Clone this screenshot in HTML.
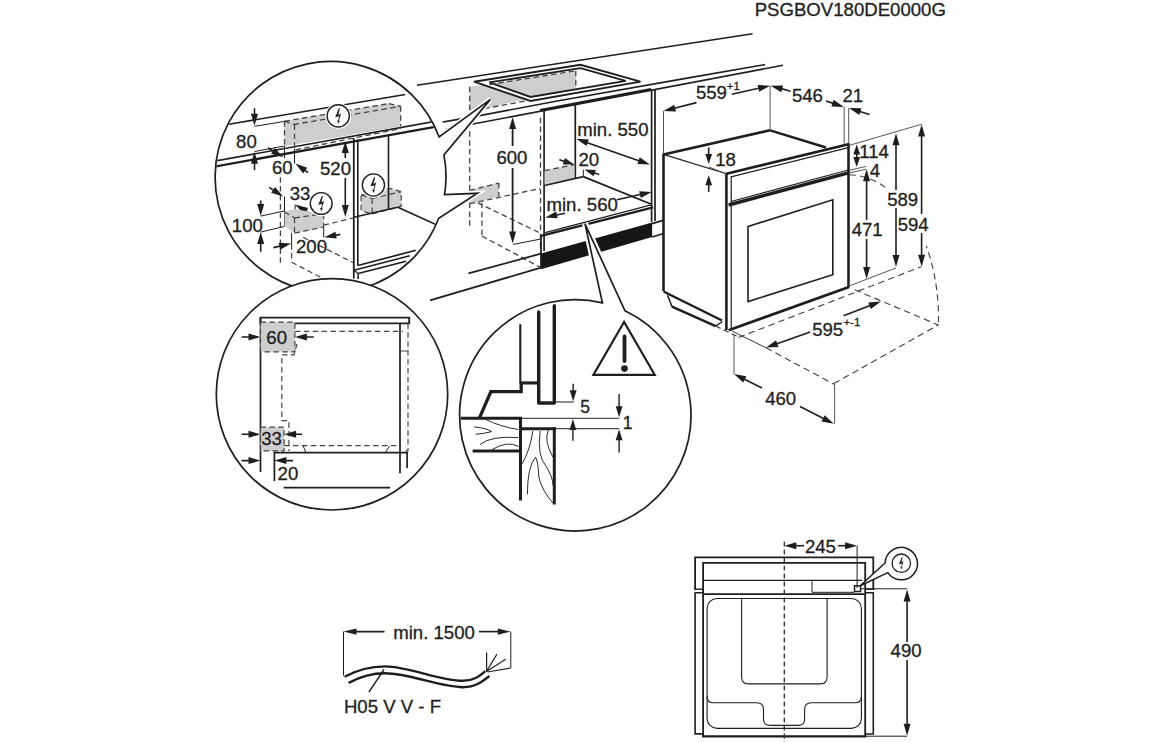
<!DOCTYPE html>
<html><head><meta charset="utf-8"><style>
html,body{margin:0;padding:0;background:#fff;width:1156px;height:742px;overflow:hidden}
svg{display:block}
text{font-family:"Liberation Sans",sans-serif;fill:#1e1e1e;stroke:#1e1e1e;stroke-width:0.3px}
</style></head><body>
<svg width="1156" height="742" viewBox="0 0 1156 742">
<rect width="1156" height="742" fill="#fff"/>
<line x1="417" y1="85.3" x2="752.6" y2="33.7" stroke="#1e1e1e" stroke-width="1.6" stroke-linecap="butt"/>
<polyline points="400,129.5 479.7,115.6 560,100.5 690,77.6 765,64.6" fill="none" stroke="#1e1e1e" stroke-width="1.6" stroke-linejoin="miter"/>
<line x1="440" y1="130.3" x2="783" y2="65.3" stroke="#1e1e1e" stroke-width="1.6" stroke-linecap="butt"/>
<line x1="540.1" y1="110.2" x2="651" y2="89.3" stroke="#1e1e1e" stroke-width="2.6" stroke-linecap="butt"/>
<polygon points="469.7,86.8 575.8,70.8 575.8,88.3 469.7,111.5" fill="#cdcecf" stroke="none" stroke-linejoin="miter"/>
<path d="M474,81.7 L580.5,64.8 L640.5,81.6 L530.5,101 Z M489.3,82.4 L580.5,68.1 L625.7,80.9 L530.5,97 Z" fill="#fff" fill-rule="evenodd"/>
<polygon points="474,81.7 580.5,64.8 640.5,81.6 530.5,101" fill="none" stroke="#1e1e1e" stroke-width="1.9" stroke-linejoin="miter"/>
<polygon points="489.3,82.4 580.5,68.1 625.7,80.9 530.5,97" fill="none" stroke="#1e1e1e" stroke-width="1.9" stroke-linejoin="miter"/>
<line x1="489.5" y1="84.5" x2="575.8" y2="70.8" stroke="#444" stroke-width="1.3" stroke-dasharray="5.5,3.4" stroke-linecap="butt"/>
<line x1="575.8" y1="70.8" x2="575.8" y2="88.3" stroke="#444" stroke-width="1.3" stroke-dasharray="5.5,3.4" stroke-linecap="butt"/>
<line x1="484.2" y1="108.6" x2="530" y2="100.2" stroke="#444" stroke-width="1.3" stroke-dasharray="5.5,3.4" stroke-linecap="butt"/>
<line x1="469.7" y1="86.8" x2="469.7" y2="227" stroke="#444" stroke-width="1.3" stroke-dasharray="5.5,3.4" stroke-linecap="butt"/>
<polygon points="469.7,190.4 498.8,183.1 498.8,196.4 469.7,203.7" fill="#cdcecf" stroke="none" stroke-linejoin="miter"/>
<line x1="469.7" y1="190.4" x2="498.8" y2="183.1" stroke="#444" stroke-width="1.3" stroke-dasharray="5.5,3.4" stroke-linecap="butt"/>
<line x1="498.8" y1="183.1" x2="498.8" y2="196.4" stroke="#444" stroke-width="1.3" stroke-dasharray="5.5,3.4" stroke-linecap="butt"/>
<line x1="469.7" y1="203.7" x2="540" y2="188.5" stroke="#444" stroke-width="1.3" stroke-dasharray="5.5,3.4" stroke-linecap="butt"/>
<line x1="481.9" y1="202.8" x2="481.9" y2="236" stroke="#444" stroke-width="1.3" stroke-dasharray="5.5,3.4" stroke-linecap="butt"/>
<line x1="481.9" y1="236" x2="540" y2="267.2" stroke="#444" stroke-width="1.3" stroke-dasharray="5.5,3.4" stroke-linecap="butt"/>
<line x1="477.7" y1="202.8" x2="540" y2="233" stroke="#444" stroke-width="1.3" stroke-dasharray="5.5,3.4" stroke-linecap="butt"/>
<line x1="540.5" y1="117.7" x2="540.5" y2="251" stroke="#444" stroke-width="1.3" stroke-dasharray="5.5,3.4" stroke-linecap="butt"/>
<line x1="544.1" y1="109.5" x2="544.1" y2="251" stroke="#1e1e1e" stroke-width="1.7" stroke-linecap="butt"/>
<line x1="575.3" y1="104.5" x2="575.3" y2="178.6" stroke="#1e1e1e" stroke-width="1.7" stroke-linecap="butt"/>
<line x1="651.6" y1="89.5" x2="651.6" y2="222" stroke="#1e1e1e" stroke-width="1.7" stroke-linecap="butt"/>
<line x1="655" y1="89" x2="655" y2="221" stroke="#1e1e1e" stroke-width="1.7" stroke-linecap="butt"/>
<polygon points="544.5,170.6 574.3,164.6 574.3,178.6 544.5,184.5" fill="#cdcecf" stroke="none" stroke-linejoin="miter"/>
<line x1="544.5" y1="170.6" x2="574.3" y2="164.6" stroke="#444" stroke-width="1.3" stroke-dasharray="5.5,3.4" stroke-linecap="butt"/>
<line x1="544.5" y1="185.5" x2="583.3" y2="176.6" stroke="#1e1e1e" stroke-width="1.7" stroke-linecap="butt"/>
<line x1="583.3" y1="176.6" x2="652" y2="204.5" stroke="#1e1e1e" stroke-width="1.7" stroke-linecap="butt"/>
<line x1="545.2" y1="232.6" x2="652.1" y2="204.6" stroke="#1e1e1e" stroke-width="1.2" stroke-linecap="butt"/>
<line x1="541" y1="235.8" x2="653.2" y2="207.4" stroke="#1e1e1e" stroke-width="2.4" stroke-linecap="butt"/>
<polygon points="541,253.5 652.1,222.4 652.1,237 541,269.3" fill="#161616" stroke="none" stroke-linejoin="miter"/>
<line x1="541" y1="235" x2="541" y2="268.2" stroke="#1e1e1e" stroke-width="1.8" stroke-linecap="butt"/>
<line x1="468.4" y1="273.4" x2="541" y2="253.6" stroke="#1e1e1e" stroke-width="1.7" stroke-linecap="butt"/>
<line x1="430" y1="300.4" x2="541" y2="267.6" stroke="#1e1e1e" stroke-width="1.7" stroke-linecap="butt"/>
<line x1="652.1" y1="223.6" x2="663" y2="220.4" stroke="#1e1e1e" stroke-width="1.7" stroke-linecap="butt"/>
<line x1="652.1" y1="237" x2="663" y2="233.8" stroke="#1e1e1e" stroke-width="1.7" stroke-linecap="butt"/>
<line x1="512.6" y1="124" x2="512.6" y2="146" stroke="#1e1e1e" stroke-width="1.8" stroke-linecap="butt"/>
<polygon points="512.6,117.1 516.1,129.1 509.1,129.1" fill="#1e1e1e" stroke="none" stroke-linejoin="miter"/>
<line x1="512.6" y1="168" x2="512.6" y2="237" stroke="#1e1e1e" stroke-width="1.8" stroke-linecap="butt"/>
<polygon points="512.6,243.6 509.1,231.6 516.1,231.6" fill="#1e1e1e" stroke="none" stroke-linejoin="miter"/>
<line x1="513" y1="244.4" x2="540" y2="239.2" stroke="#1e1e1e" stroke-width="1.0" stroke-linecap="butt"/>
<text x="496.4" y="164" font-size="18.6" text-anchor="start">600</text>
<line x1="583.09" y1="141.18" x2="643.11" y2="162.22" stroke="#1e1e1e" stroke-width="1.6" stroke-linecap="butt"/>
<polygon points="649.9,164.6 637.42,163.93 639.73,157.33" fill="#1e1e1e" stroke="none" stroke-linejoin="miter"/>
<polygon points="576.3,138.8 588.78,139.47 586.47,146.07" fill="#1e1e1e" stroke="none" stroke-linejoin="miter"/>
<text x="577.2" y="136.1" font-size="18.6" text-anchor="start">min. 550</text>
<line x1="559.4" y1="159.7" x2="568.03" y2="162.54" stroke="#1e1e1e" stroke-width="1.6" stroke-linecap="butt"/>
<polygon points="574.3,164.6 562.79,164.39 564.91,157.93" fill="#1e1e1e" stroke="none" stroke-linejoin="miter"/>
<line x1="599.2" y1="174.6" x2="590.56" y2="171.7" stroke="#1e1e1e" stroke-width="1.6" stroke-linecap="butt"/>
<polygon points="584.3,169.6 595.81,169.88 593.65,176.32" fill="#1e1e1e" stroke="none" stroke-linejoin="miter"/>
<line x1="583.3" y1="169.6" x2="583.3" y2="176.6" stroke="#1e1e1e" stroke-width="1.0" stroke-linecap="butt"/>
<text x="578.5" y="165.9" font-size="18.6" text-anchor="start">20</text>
<line x1="565" y1="213.2" x2="552.24" y2="215.91" stroke="#1e1e1e" stroke-width="1.6" stroke-linecap="butt"/>
<polygon points="545.2,217.4 556.21,211.49 557.67,218.33" fill="#1e1e1e" stroke="none" stroke-linejoin="miter"/>
<line x1="616.8" y1="199.7" x2="644.67" y2="193.55" stroke="#1e1e1e" stroke-width="1.6" stroke-linecap="butt"/>
<polygon points="651.7,192 640.74,198 639.23,191.17" fill="#1e1e1e" stroke="none" stroke-linejoin="miter"/>
<text x="546.5" y="211.4" font-size="18.6" text-anchor="start">min. 560</text>
<line x1="663.5" y1="154.4" x2="770.1" y2="130.3" stroke="#1e1e1e" stroke-width="2.6" stroke-linecap="butt"/>
<line x1="770.1" y1="130.3" x2="826" y2="147.5" stroke="#1e1e1e" stroke-width="2.4" stroke-linecap="butt"/>
<line x1="663.5" y1="154.4" x2="726.4" y2="173.8" stroke="#1e1e1e" stroke-width="1.2" stroke-linecap="butt"/>
<line x1="726.4" y1="173.8" x2="848.5" y2="144.2" stroke="#1e1e1e" stroke-width="2.6" stroke-linecap="butt"/>
<line x1="731" y1="176.8" x2="848.5" y2="147.6" stroke="#1e1e1e" stroke-width="1.2" stroke-linecap="butt"/>
<line x1="663.5" y1="153.5" x2="663.5" y2="291" stroke="#1e1e1e" stroke-width="2.6" stroke-linecap="butt"/>
<line x1="726.4" y1="172.8" x2="726.4" y2="330" stroke="#1e1e1e" stroke-width="2.6" stroke-linecap="butt"/>
<line x1="731.2" y1="176" x2="731.2" y2="329" stroke="#1e1e1e" stroke-width="1.2" stroke-linecap="butt"/>
<line x1="848.5" y1="143" x2="848.5" y2="287.5" stroke="#1e1e1e" stroke-width="2.6" stroke-linecap="butt"/>
<line x1="731" y1="201.5" x2="848.5" y2="170" stroke="#1e1e1e" stroke-width="1.2" stroke-linecap="butt"/>
<line x1="728.6" y1="205" x2="848.5" y2="172.8" stroke="#1e1e1e" stroke-width="3.4" stroke-linecap="butt"/>
<polygon points="748,226.5 832.8,199.8 832.8,274.7 748,301.6" fill="none" stroke="#1e1e1e" stroke-width="1.6" stroke-linejoin="miter"/>
<line x1="728.6" y1="330.2" x2="849" y2="287" stroke="#1e1e1e" stroke-width="2.8" stroke-linecap="butt"/>
<line x1="663.5" y1="291.5" x2="722" y2="320.5" stroke="#1e1e1e" stroke-width="2.4" stroke-linecap="butt"/>
<polyline points="667.5,295.2 672,306.6" fill="none" stroke="#1e1e1e" stroke-width="1.5" stroke-linejoin="miter"/>
<line x1="672" y1="306.6" x2="715.6" y2="326.1" stroke="#1e1e1e" stroke-width="2.5" stroke-linecap="butt"/>
<polyline points="715.6,326.1 722.4,321.5" fill="none" stroke="#1e1e1e" stroke-width="1.4" stroke-linejoin="miter"/>
<line x1="715.6" y1="326" x2="739.5" y2="337.5" stroke="#444" stroke-width="1.2" stroke-dasharray="5.5,3.4" stroke-linecap="butt"/>
<line x1="663.5" y1="111" x2="663.5" y2="154" stroke="#555" stroke-width="1.0" stroke-linecap="butt"/>
<line x1="696.5" y1="102.6" x2="670.48" y2="109.22" stroke="#1e1e1e" stroke-width="1.6" stroke-linecap="butt"/>
<polygon points="663.5,111 674.27,104.65 675.99,111.43" fill="#1e1e1e" stroke="none" stroke-linejoin="miter"/>
<line x1="731.8" y1="94.3" x2="763.07" y2="87.28" stroke="#1e1e1e" stroke-width="1.6" stroke-linecap="butt"/>
<polygon points="770.1,85.7 759.16,91.74 757.62,84.91" fill="#1e1e1e" stroke="none" stroke-linejoin="miter"/>
<text x="695.9" y="99.3" font-size="18.6" text-anchor="start">559</text>
<text x="726.7" y="89.9" font-size="11.5" text-anchor="start">+1</text>
<line x1="770.1" y1="85.7" x2="770.1" y2="130" stroke="#555" stroke-width="1.0" stroke-linecap="butt"/>
<line x1="790.6" y1="91.2" x2="777.54" y2="87.61" stroke="#1e1e1e" stroke-width="1.6" stroke-linecap="butt"/>
<polygon points="770.6,85.7 783.1,85.51 781.24,92.26" fill="#1e1e1e" stroke="none" stroke-linejoin="miter"/>
<line x1="825.9" y1="100.9" x2="837.07" y2="104.62" stroke="#1e1e1e" stroke-width="1.6" stroke-linecap="butt"/>
<polygon points="843.9,106.9 831.41,106.43 833.62,99.78" fill="#1e1e1e" stroke="none" stroke-linejoin="miter"/>
<text x="791.9" y="101.9" font-size="18.6" text-anchor="start">546</text>
<line x1="844.2" y1="106.9" x2="844.2" y2="144" stroke="#555" stroke-width="1.0" stroke-linecap="butt"/>
<line x1="848.7" y1="108.1" x2="848.7" y2="144" stroke="#555" stroke-width="1.0" stroke-linecap="butt"/>
<line x1="869.5" y1="114.5" x2="855.78" y2="110.24" stroke="#1e1e1e" stroke-width="1.6" stroke-linecap="butt"/>
<polygon points="848.9,108.1 861.4,108.32 859.32,115" fill="#1e1e1e" stroke="none" stroke-linejoin="miter"/>
<text x="842.4" y="101.9" font-size="18.6" text-anchor="start">21</text>
<line x1="856.7" y1="152" x2="856.7" y2="158" stroke="#1e1e1e" stroke-width="1.6" stroke-linecap="butt"/>
<polygon points="856.7,144.4 860.1,154.4 853.3,154.4" fill="#1e1e1e" stroke="none" stroke-linejoin="miter"/>
<polygon points="856.7,166.9 853.3,156.9 860.1,156.9" fill="#1e1e1e" stroke="none" stroke-linejoin="miter"/>
<text x="859.2" y="157.5" font-size="18.6" text-anchor="start">114</text>
<line x1="849.9" y1="145.2" x2="921.8" y2="124.2" stroke="#555" stroke-width="1.0" stroke-linecap="butt"/>
<line x1="849.9" y1="170.2" x2="865.9" y2="166.4" stroke="#555" stroke-width="1.0" stroke-linecap="butt"/>
<line x1="849.9" y1="172.8" x2="866.4" y2="169.2" stroke="#555" stroke-width="1.0" stroke-linecap="butt"/>
<text x="869.7" y="176.9" font-size="18.6" text-anchor="start">4</text>
<line x1="708.7" y1="147.5" x2="708.7" y2="158.1" stroke="#1e1e1e" stroke-width="1.6" stroke-linecap="butt"/>
<polygon points="708.7,164.1 705.3,154.1 712.1,154.1" fill="#1e1e1e" stroke="none" stroke-linejoin="miter"/>
<line x1="708.7" y1="191.8" x2="708.7" y2="181.2" stroke="#1e1e1e" stroke-width="1.6" stroke-linecap="butt"/>
<polygon points="708.7,175.2 712.1,185.2 705.3,185.2" fill="#1e1e1e" stroke="none" stroke-linejoin="miter"/>
<line x1="708.7" y1="167" x2="726.4" y2="173.8" stroke="#555" stroke-width="1.0" stroke-linecap="butt"/>
<text x="715.2" y="165.8" font-size="18.6" text-anchor="start">18</text>
<path d="M849.5,174.7 A90.44,143.32 0 0 1 938.4,325" fill="none" stroke="#444" stroke-width="1.15" stroke-dasharray="6.5,4.2"/>
<rect x="886" y="189" width="34" height="19" fill="#fff"/>
<rect x="896" y="213" width="34" height="19" fill="#fff"/>
<rect x="896" y="204" width="24" height="12" fill="#fff"/>
<rect x="912" y="228" width="20" height="18" fill="#fff"/>
<polygon points="866.6,169.2 870.1,181.2 863.1,181.2" fill="#1e1e1e" stroke="none" stroke-linejoin="miter"/>
<line x1="866.6" y1="177" x2="866.6" y2="220" stroke="#1e1e1e" stroke-width="1.6" stroke-linecap="butt"/>
<line x1="866.6" y1="239" x2="866.6" y2="272" stroke="#1e1e1e" stroke-width="1.6" stroke-linecap="butt"/>
<polygon points="866.6,279 863.1,267 870.1,267" fill="#1e1e1e" stroke="none" stroke-linejoin="miter"/>
<text x="851.7" y="235.8" font-size="18.6" text-anchor="start">471</text>
<polygon points="896,133.2 899.5,145.2 892.5,145.2" fill="#1e1e1e" stroke="none" stroke-linejoin="miter"/>
<line x1="896" y1="141" x2="896" y2="190" stroke="#1e1e1e" stroke-width="1.6" stroke-linecap="butt"/>
<line x1="896" y1="208" x2="896" y2="260" stroke="#1e1e1e" stroke-width="1.6" stroke-linecap="butt"/>
<polygon points="896,267 892.5,255 899.5,255" fill="#1e1e1e" stroke="none" stroke-linejoin="miter"/>
<text x="887.2" y="206.3" font-size="18.6" text-anchor="start">589</text>
<polygon points="921.6,124.4 925.1,136.4 918.1,136.4" fill="#1e1e1e" stroke="none" stroke-linejoin="miter"/>
<line x1="921.6" y1="133" x2="921.6" y2="214" stroke="#1e1e1e" stroke-width="1.6" stroke-linecap="butt"/>
<line x1="921.6" y1="233" x2="921.6" y2="259" stroke="#1e1e1e" stroke-width="1.6" stroke-linecap="butt"/>
<polygon points="921.6,266.7 918.1,254.7 925.1,254.7" fill="#1e1e1e" stroke="none" stroke-linejoin="miter"/>
<text x="897.7" y="230.8" font-size="18.6" text-anchor="start">594</text>
<line x1="848.6" y1="286.2" x2="896" y2="268" stroke="#555" stroke-width="1.0" stroke-linecap="butt"/>
<line x1="738.5" y1="337.5" x2="921.4" y2="266.7" stroke="#444" stroke-width="1.15" stroke-dasharray="6.5,4.2" stroke-linecap="butt"/>
<line x1="854.7" y1="289.8" x2="938.4" y2="325" stroke="#444" stroke-width="1.15" stroke-dasharray="6.5,4.2" stroke-linecap="butt"/>
<line x1="732.3" y1="331.2" x2="766" y2="347.8" stroke="#333" stroke-width="1.0" stroke-linecap="butt"/>
<line x1="766" y1="347.8" x2="834" y2="384.2" stroke="#444" stroke-width="1.15" stroke-dasharray="6.5,4.2" stroke-linecap="butt"/>
<line x1="833.8" y1="383.6" x2="938.4" y2="325" stroke="#444" stroke-width="1.15" stroke-dasharray="6.5,4.2" stroke-linecap="butt"/>
<line x1="810.2" y1="331.9" x2="772.78" y2="345.19" stroke="#1e1e1e" stroke-width="1.6" stroke-linecap="butt"/>
<polygon points="766,347.6 776.14,340.29 778.48,346.88" fill="#1e1e1e" stroke="none" stroke-linejoin="miter"/>
<line x1="843.5" y1="315.8" x2="874.08" y2="303.99" stroke="#1e1e1e" stroke-width="1.6" stroke-linecap="butt"/>
<polygon points="880.8,301.4 870.87,308.99 868.34,302.46" fill="#1e1e1e" stroke="none" stroke-linejoin="miter"/>
<text x="812.2" y="335.5" font-size="18.6" text-anchor="start">595</text>
<text x="843.4" y="325.6" font-size="11.5" text-anchor="start">+-1</text>
<line x1="734" y1="334" x2="734" y2="374" stroke="#555" stroke-width="1.0" stroke-linecap="butt"/>
<line x1="834.6" y1="383.6" x2="834.6" y2="423.8" stroke="#555" stroke-width="1.0" stroke-linecap="butt"/>
<line x1="762" y1="388" x2="740.44" y2="377.22" stroke="#1e1e1e" stroke-width="1.6" stroke-linecap="butt"/>
<polygon points="734,374 746.3,376.24 743.17,382.5" fill="#1e1e1e" stroke="none" stroke-linejoin="miter"/>
<line x1="800" y1="406.5" x2="827.39" y2="420.52" stroke="#1e1e1e" stroke-width="1.6" stroke-linecap="butt"/>
<polygon points="833.8,423.8 821.52,421.45 824.71,415.22" fill="#1e1e1e" stroke="none" stroke-linejoin="miter"/>
<text x="765.2" y="404.7" font-size="18.6" text-anchor="start">460</text>
<circle cx="330.7" cy="177.2" r="125" fill="#fff"/>
<path d="M439.1,137 A115.6,115.6 0 1 0 438.7,218.3 L477.5,193.3 L444.5,194.6 Q447.8,174.7 443.9,154.9 L490.4,99.4 Z" fill="#fff" stroke="#fff" stroke-width="5"/>
<clipPath id="c1"><circle cx="330.7" cy="177.2" r="114.7"/></clipPath>
<g clip-path="url(#c1)">
<line x1="229.1" y1="124.2" x2="405.3" y2="94.5" stroke="#1e1e1e" stroke-width="1.6" stroke-linecap="butt"/>
<line x1="200" y1="163.7" x2="460" y2="116.9" stroke="#1e1e1e" stroke-width="1.6" stroke-linecap="butt"/>
<line x1="200" y1="169.2" x2="460" y2="122.4" stroke="#1e1e1e" stroke-width="2.3" stroke-linecap="butt"/>
<polygon points="284.5,121.2 388.9,103.6 400.7,106.3 400.7,126.5 284.5,146.3" fill="#cdcecf" stroke="none" stroke-linejoin="miter"/>
<line x1="284.5" y1="121.2" x2="388.9" y2="103.6" stroke="#444" stroke-width="1.3" stroke-dasharray="5.5,3.4" stroke-linecap="butt"/>
<line x1="293.6" y1="124.5" x2="400.7" y2="106.3" stroke="#444" stroke-width="1.3" stroke-dasharray="5.5,3.4" stroke-linecap="butt"/>
<line x1="388.9" y1="103.6" x2="400.7" y2="106.3" stroke="#444" stroke-width="1.3" stroke-dasharray="5.5,3.4" stroke-linecap="butt"/>
<line x1="400.7" y1="106.3" x2="400.7" y2="126" stroke="#444" stroke-width="1.3" stroke-dasharray="5.5,3.4" stroke-linecap="butt"/>
<line x1="284.5" y1="121.2" x2="284.5" y2="146" stroke="#444" stroke-width="1.3" stroke-dasharray="5.5,3.4" stroke-linecap="butt"/>
<line x1="284.5" y1="121.2" x2="293.6" y2="124.5" stroke="#444" stroke-width="1.3" stroke-dasharray="5.5,3.4" stroke-linecap="butt"/>
<line x1="294.5" y1="124.5" x2="294.5" y2="149" stroke="#444" stroke-width="1.3" stroke-dasharray="5.5,3.4" stroke-linecap="butt"/>
<line x1="294.5" y1="149" x2="294.5" y2="163.6" stroke="#1e1e1e" stroke-width="1.0" stroke-linecap="butt"/>
<line x1="295.6" y1="149.8" x2="401" y2="128.5" stroke="#444" stroke-width="1.3" stroke-dasharray="5.5,3.4" stroke-linecap="butt"/>
<line x1="254.5" y1="108.2" x2="254.5" y2="118.6" stroke="#1e1e1e" stroke-width="1.6" stroke-linecap="butt"/>
<polygon points="254.5,125.8 251,113.8 258,113.8" fill="#1e1e1e" stroke="none" stroke-linejoin="miter"/>
<line x1="254.5" y1="170" x2="254.5" y2="159" stroke="#1e1e1e" stroke-width="1.6" stroke-linecap="butt"/>
<polygon points="254.5,151.8 258,163.8 251,163.8" fill="#1e1e1e" stroke="none" stroke-linejoin="miter"/>
<line x1="254.5" y1="126.3" x2="284.5" y2="121.4" stroke="#1e1e1e" stroke-width="1.0" stroke-linecap="butt"/>
<line x1="254.5" y1="151.5" x2="284.5" y2="146" stroke="#1e1e1e" stroke-width="1.0" stroke-linecap="butt"/>
<line x1="284.5" y1="146" x2="284.5" y2="158" stroke="#1e1e1e" stroke-width="1.0" stroke-linecap="butt"/>
<text x="236.1" y="147.5" font-size="18.6" text-anchor="start">80</text>
<circle cx="338.2" cy="115.9" r="12.9" fill="#fff"/>
<circle cx="338.2" cy="115.9" r="11.1" fill="#fff" stroke="#1e1e1e" stroke-width="1.4"/>
<polygon points="338.8,108.19 339.93,108.33 338.3,114.91 341.07,113.18 338.94,120.76 339.84,120.66 338.2,123.83 337.11,120.46 338.1,120.61 339.19,116.3 335.23,117.14" fill="#1e1e1e" stroke="none" stroke-linejoin="miter"/>
<line x1="268" y1="147.8" x2="277.08" y2="153.41" stroke="#1e1e1e" stroke-width="1.6" stroke-linecap="butt"/>
<polygon points="283.2,157.2 271.15,153.87 274.83,147.91" fill="#1e1e1e" stroke="none" stroke-linejoin="miter"/>
<line x1="308.1" y1="172.7" x2="301.25" y2="167.79" stroke="#1e1e1e" stroke-width="1.6" stroke-linecap="butt"/>
<polygon points="295.4,163.6 307.19,167.74 303.12,173.43" fill="#1e1e1e" stroke="none" stroke-linejoin="miter"/>
<text x="271.9" y="173.9" font-size="18.6" text-anchor="start">60</text>
<line x1="345.3" y1="148" x2="345.3" y2="158" stroke="#1e1e1e" stroke-width="1.6" stroke-linecap="butt"/>
<polygon points="345.3,140.9 348.8,152.9 341.8,152.9" fill="#1e1e1e" stroke="none" stroke-linejoin="miter"/>
<line x1="345.3" y1="178" x2="345.3" y2="208" stroke="#1e1e1e" stroke-width="1.6" stroke-linecap="butt"/>
<polygon points="345.3,217 341.8,205 348.8,205" fill="#1e1e1e" stroke="none" stroke-linejoin="miter"/>
<text x="320" y="174.8" font-size="18.6" text-anchor="start">520</text>
<line x1="353.8" y1="138.3" x2="353.8" y2="278.4" stroke="#1e1e1e" stroke-width="1.8" stroke-linecap="butt"/>
<line x1="357.8" y1="139.5" x2="357.8" y2="265.5" stroke="#1e1e1e" stroke-width="1.6" stroke-linecap="butt"/>
<line x1="358.2" y1="273.5" x2="358.2" y2="279" stroke="#1e1e1e" stroke-width="1.6" stroke-linecap="butt"/>
<line x1="388.5" y1="135" x2="388.5" y2="209.5" stroke="#1e1e1e" stroke-width="1.6" stroke-linecap="butt"/>
<line x1="280.4" y1="177.2" x2="280.4" y2="265" stroke="#444" stroke-width="1.3" stroke-dasharray="5.5,3.4" stroke-linecap="butt"/>
<polygon points="361.1,195 390,188.4 401.2,191.7 401.2,206.2 372.2,214 361.1,210.6" fill="#cdcecf" stroke="none" stroke-linejoin="miter"/>
<polygon points="361.1,195 390,188.4 401.2,191.7 401.2,206.2 372.2,214 361.1,210.6" fill="none" stroke="#444" stroke-width="1.2" stroke-dasharray="5.5,3.4" stroke-linejoin="miter"/>
<line x1="361.1" y1="195" x2="372.2" y2="198.5" stroke="#444" stroke-width="1.2" stroke-dasharray="5.5,3.4" stroke-linecap="butt"/>
<line x1="372.2" y1="198.5" x2="401.2" y2="191.7" stroke="#444" stroke-width="1.2" stroke-dasharray="5.5,3.4" stroke-linecap="butt"/>
<line x1="372.2" y1="198.5" x2="372.2" y2="214" stroke="#444" stroke-width="1.2" stroke-dasharray="5.5,3.4" stroke-linecap="butt"/>
<line x1="388.5" y1="189" x2="388.5" y2="209.5" stroke="#1e1e1e" stroke-width="1.6" stroke-linecap="butt"/>
<circle cx="373.4" cy="185" r="12.9" fill="#fff"/>
<circle cx="373.4" cy="185" r="11.1" fill="#fff" stroke="#1e1e1e" stroke-width="1.4"/>
<polygon points="374,177.29 375.13,177.43 373.5,184.01 376.27,182.28 374.14,189.86 375.04,189.76 373.4,192.93 372.31,189.56 373.3,189.71 374.39,185.4 370.43,186.24" fill="#1e1e1e" stroke="none" stroke-linejoin="miter"/>
<line x1="353.8" y1="217.3" x2="397.8" y2="207.3" stroke="#1e1e1e" stroke-width="1.6" stroke-linecap="butt"/>
<line x1="397.8" y1="207.3" x2="450" y2="231" stroke="#1e1e1e" stroke-width="1.6" stroke-linecap="butt"/>
<line x1="357.8" y1="265.5" x2="415.8" y2="250.3" stroke="#1e1e1e" stroke-width="1.7" stroke-linecap="butt"/>
<line x1="354" y1="270.3" x2="409.8" y2="255.8" stroke="#1e1e1e" stroke-width="1.7" stroke-linecap="butt"/>
<line x1="358.2" y1="273.5" x2="406.1" y2="261.2" stroke="#1e1e1e" stroke-width="1.7" stroke-linecap="butt"/>
<line x1="354" y1="270.3" x2="358.2" y2="273.5" stroke="#1e1e1e" stroke-width="1.2" stroke-linecap="butt"/>
<line x1="269.3" y1="187.4" x2="277.11" y2="192.61" stroke="#1e1e1e" stroke-width="1.6" stroke-linecap="butt"/>
<polygon points="283.1,196.6 271.17,192.86 275.06,187.03" fill="#1e1e1e" stroke="none" stroke-linejoin="miter"/>
<line x1="284.5" y1="196.6" x2="284.5" y2="225.8" stroke="#1e1e1e" stroke-width="1.0" stroke-linecap="butt"/>
<text x="289.7" y="200.4" font-size="18.6" text-anchor="start">33</text>
<line x1="309.5" y1="213.3" x2="301.78" y2="208.63" stroke="#1e1e1e" stroke-width="1.6" stroke-linecap="butt"/>
<polygon points="295.1,204.6 308.19,208.07 304.26,214.57" fill="#1e1e1e" stroke="none" stroke-linejoin="miter"/>
<line x1="295.1" y1="204.6" x2="295.1" y2="217.8" stroke="#1e1e1e" stroke-width="1.0" stroke-linecap="butt"/>
<polygon points="284.5,211.5 295,209 323.7,214.5 323.7,227 294.5,233.2 284.5,226" fill="#cdcecf" stroke="none" stroke-linejoin="miter"/>
<line x1="284.5" y1="212" x2="294.5" y2="217.8" stroke="#444" stroke-width="1.2" stroke-dasharray="5.5,3.4" stroke-linecap="butt"/>
<line x1="294.5" y1="217.8" x2="323.7" y2="213.8" stroke="#444" stroke-width="1.2" stroke-dasharray="5.5,3.4" stroke-linecap="butt"/>
<line x1="294.5" y1="217.8" x2="294.5" y2="233.2" stroke="#444" stroke-width="1.2" stroke-dasharray="5.5,3.4" stroke-linecap="butt"/>
<line x1="294.5" y1="233.2" x2="323.7" y2="227" stroke="#444" stroke-width="1.2" stroke-dasharray="5.5,3.4" stroke-linecap="butt"/>
<line x1="323.7" y1="213.8" x2="323.7" y2="227" stroke="#444" stroke-width="1.2" stroke-dasharray="5.5,3.4" stroke-linecap="butt"/>
<circle cx="321.2" cy="203.5" r="12.7" fill="#fff"/>
<circle cx="321.2" cy="203.5" r="10.9" fill="#fff" stroke="#1e1e1e" stroke-width="1.4"/>
<polygon points="321.79,195.93 322.9,196.06 321.3,202.53 324.02,200.83 321.93,208.27 322.81,208.17 321.2,211.29 320.13,207.98 321.1,208.12 322.17,203.89 318.28,204.72" fill="#1e1e1e" stroke="none" stroke-linejoin="miter"/>
<line x1="260.7" y1="200.4" x2="260.7" y2="208.9" stroke="#1e1e1e" stroke-width="1.6" stroke-linecap="butt"/>
<polygon points="260.7,216.1 257.2,204.1 264.2,204.1" fill="#1e1e1e" stroke="none" stroke-linejoin="miter"/>
<line x1="260.7" y1="251.8" x2="260.7" y2="239.3" stroke="#1e1e1e" stroke-width="1.6" stroke-linecap="butt"/>
<polygon points="260.7,232.1 264.2,244.1 257.2,244.1" fill="#1e1e1e" stroke="none" stroke-linejoin="miter"/>
<line x1="260.7" y1="216.1" x2="284.5" y2="210.9" stroke="#1e1e1e" stroke-width="1.0" stroke-linecap="butt"/>
<line x1="260.7" y1="232.1" x2="284.5" y2="226.4" stroke="#1e1e1e" stroke-width="1.0" stroke-linecap="butt"/>
<text x="231.8" y="232.2" font-size="18.6" text-anchor="start">100</text>
<line x1="273.3" y1="247.6" x2="284.08" y2="245.18" stroke="#1e1e1e" stroke-width="1.6" stroke-linecap="butt"/>
<polygon points="291.1,243.6 280.16,249.65 278.62,242.82" fill="#1e1e1e" stroke="none" stroke-linejoin="miter"/>
<line x1="340.3" y1="234.4" x2="331.38" y2="236.02" stroke="#1e1e1e" stroke-width="1.6" stroke-linecap="butt"/>
<polygon points="324.3,237.3 335.48,231.72 336.73,238.6" fill="#1e1e1e" stroke="none" stroke-linejoin="miter"/>
<line x1="291.6" y1="232.7" x2="291.6" y2="244.1" stroke="#1e1e1e" stroke-width="1.0" stroke-linecap="butt"/>
<line x1="323.7" y1="227" x2="323.7" y2="237.3" stroke="#1e1e1e" stroke-width="1.0" stroke-linecap="butt"/>
<text x="296" y="253" font-size="18.6" text-anchor="start">200</text>
<line x1="291.6" y1="244.1" x2="291.6" y2="262.3" stroke="#444" stroke-width="1.2" stroke-dasharray="5.5,3.4" stroke-linecap="butt"/>
<line x1="291.6" y1="262.3" x2="330" y2="282" stroke="#444" stroke-width="1.2" stroke-dasharray="5.5,3.4" stroke-linecap="butt"/>
<line x1="303.1" y1="237.3" x2="354.4" y2="263.3" stroke="#444" stroke-width="1.2" stroke-dasharray="5.5,3.4" stroke-linecap="butt"/>
<line x1="323.7" y1="225.2" x2="354.4" y2="217.6" stroke="#444" stroke-width="1.2" stroke-dasharray="5.5,3.4" stroke-linecap="butt"/>
</g>
<path d="M439.1,137 A115.6,115.6 0 1 0 438.7,218.3 L477.5,193.3 L444.5,194.6 Q447.8,174.7 443.9,154.9 L490.4,99.4 Z" fill="none" stroke="#1e1e1e" stroke-width="1.7" stroke-linejoin="miter"/>
<path d="M602.4,302.8 A115.7,115.7 0 1 0 625,310.8 L585,223.8 Z" fill="#fff" stroke="#fff" stroke-width="6"/>
<path d="M602.4,302.8 A115.7,115.7 0 1 0 625,310.8 L585,223.8 Z" fill="#fff" stroke="#1e1e1e" stroke-width="1.7"/>
<clipPath id="c3"><circle cx="575.4" cy="415.3" r="114.8"/></clipPath>
<g clip-path="url(#c3)">
<polyline points="520.3,324.2 520.3,382.8 537.3,382.8" fill="none" stroke="#1e1e1e" stroke-width="2.1" stroke-linejoin="round"/>
<polyline points="521.2,382.8 521.2,391.6 490.9,391.6 479.5,417.8" fill="none" stroke="#1e1e1e" stroke-width="3.3" stroke-linejoin="miter"/>
<polyline points="538.7,311.9 538.7,403 554.3,403 554.3,305.8" fill="none" stroke="#1e1e1e" stroke-width="3.4" stroke-linecap="round" stroke-linejoin="round"/>
<line x1="538.7" y1="383" x2="520.3" y2="383" stroke="#1e1e1e" stroke-width="3.0" stroke-linecap="butt"/>
<line x1="554.8" y1="402" x2="574" y2="402" stroke="#1e1e1e" stroke-width="1.0" stroke-linecap="butt"/>
<line x1="573.2" y1="383.7" x2="573.2" y2="394.6" stroke="#1e1e1e" stroke-width="1.4" stroke-linecap="butt"/>
<polygon points="573.2,401.2 569.8,390.2 576.6,390.2" fill="#1e1e1e" stroke="none" stroke-linejoin="miter"/>
<text x="580.2" y="412.9" font-size="17.5" text-anchor="start">5</text>
<polygon points="593.4,374.9 624.1,321.9 654.8,374.9" fill="none" stroke="#1e1e1e" stroke-width="2.1" stroke-linejoin="miter"/>
<line x1="624.5" y1="336.5" x2="624.5" y2="361" stroke="#1e1e1e" stroke-width="3.8" stroke-linecap="round"/>
<circle cx="624.5" cy="368.6" r="3.3" fill="#1e1e1e"/>
<line x1="619.1" y1="394" x2="619.1" y2="410.6" stroke="#1e1e1e" stroke-width="1.4" stroke-linecap="butt"/>
<polygon points="619.1,417.2 615.7,406.2 622.5,406.2" fill="#1e1e1e" stroke="none" stroke-linejoin="miter"/>
<line x1="619.1" y1="452.6" x2="619.1" y2="435.9" stroke="#1e1e1e" stroke-width="1.4" stroke-linecap="butt"/>
<polygon points="619.1,429.3 622.5,440.3 615.7,440.3" fill="#1e1e1e" stroke="none" stroke-linejoin="miter"/>
<text x="622.7" y="429.4" font-size="17.5" text-anchor="start">1</text>
<line x1="458" y1="418.3" x2="522" y2="418.3" stroke="#1e1e1e" stroke-width="3.0" stroke-linecap="butt"/>
<line x1="520.5" y1="418.3" x2="520.5" y2="500.5" stroke="#1e1e1e" stroke-width="3.0" stroke-linecap="butt"/>
<line x1="519" y1="428.7" x2="556" y2="428.7" stroke="#1e1e1e" stroke-width="3.0" stroke-linecap="butt"/>
<line x1="554.3" y1="427.2" x2="554.3" y2="504.4" stroke="#1e1e1e" stroke-width="3.0" stroke-linecap="butt"/>
<line x1="472.6" y1="451" x2="522" y2="451" stroke="#1e1e1e" stroke-width="3.0" stroke-linecap="butt"/>
<line x1="522" y1="418.3" x2="619.2" y2="418.3" stroke="#1e1e1e" stroke-width="1.0" stroke-linecap="butt"/>
<line x1="556" y1="428.7" x2="619.2" y2="428.7" stroke="#1e1e1e" stroke-width="1.0" stroke-linecap="butt"/>
<line x1="572.9" y1="440.8" x2="572.9" y2="425.5" stroke="#1e1e1e" stroke-width="1.4" stroke-linecap="butt"/>
<polygon points="572.9,418.9 576.3,429.9 569.5,429.9" fill="#1e1e1e" stroke="none" stroke-linejoin="miter"/>
<path d="M484.3,418.8 Q500.4,426.9 518.6,429.5 M474.2,426.9 Q487.0,428.2 491.7,431.6 Q484.3,433.6 475.5,434.3 M480.2,444.4 Q491.0,435.6 518.6,437.6 M491.7,449.8 Q507.2,440.3 518.6,446.4 M532.8,430.9 Q530.1,450.4 522.0,463.9 M540.2,430.9 Q536.8,455.8 546.3,466.6 Q553.0,477.4 553.0,485.5 M548.3,430.2 Q543.6,441.0 553.0,457.2 M527.4,494.3 Q527.4,466.6 535.5,457.2 Q538.2,461.2 538.9,477.4 Q542.2,490.9 553.0,503.0" fill="none" stroke="#2a2a2a" stroke-width="1.0"/>
</g>
<circle cx="332" cy="394.3" r="115.7" fill="#fff" stroke="#1e1e1e" stroke-width="1.7"/>
<clipPath id="c2"><circle cx="332" cy="394.3" r="114.8"/></clipPath>
<g clip-path="url(#c2)">
<polygon points="260.5,317.6 409.2,317.6 409.2,323.4 260.5,323.4" fill="none" stroke="#1e1e1e" stroke-width="1.9" stroke-linejoin="miter"/>
<line x1="260.5" y1="317.6" x2="260.5" y2="471.9" stroke="#1e1e1e" stroke-width="1.7" stroke-linecap="butt"/>
<polygon points="260.5,322.1 294.9,322.1 294.9,351.8 260.5,351.8" fill="#cdcecf" stroke="none" stroke-linejoin="miter"/>
<polygon points="260.5,322.1 294.9,322.1 294.9,351.8 260.5,351.8" fill="none" stroke="#444" stroke-width="1.2" stroke-dasharray="5.5,3.4" stroke-linejoin="miter"/>
<line x1="241.6" y1="337" x2="253.3" y2="337" stroke="#1e1e1e" stroke-width="1.6" stroke-linecap="butt"/>
<polygon points="260.5,337 248.5,340.5 248.5,333.5" fill="#1e1e1e" stroke="none" stroke-linejoin="miter"/>
<line x1="313.8" y1="337" x2="302.1" y2="337" stroke="#1e1e1e" stroke-width="1.6" stroke-linecap="butt"/>
<polygon points="294.9,337 306.9,333.5 306.9,340.5" fill="#1e1e1e" stroke="none" stroke-linejoin="miter"/>
<text x="276.7" y="344.1" font-size="18.6" text-anchor="middle">60</text>
<line x1="294.9" y1="331.3" x2="403" y2="331.3" stroke="#444" stroke-width="1.2" stroke-dasharray="5.5,3.4" stroke-linecap="butt"/>
<polyline points="297,344 294,354.9 281.8,354.9 281.8,420.6 288.9,420.6 288.9,450.9" fill="none" stroke="#444" stroke-width="1.2" stroke-dasharray="5.5,3.4" stroke-linejoin="miter"/>
<polyline points="408,323.4 408,450.9 402,450.9" fill="none" stroke="#444" stroke-width="1.2" stroke-dasharray="5.5,3.4" stroke-linejoin="miter"/>
<polyline points="401,351 408,351" fill="none" stroke="#444" stroke-width="1.0" stroke-linejoin="miter"/>
<line x1="284.1" y1="445.6" x2="400.6" y2="445.6" stroke="#444" stroke-width="1.2" stroke-dasharray="5.5,3.4" stroke-linecap="butt"/>
<line x1="400" y1="323.4" x2="400" y2="473.2" stroke="#1e1e1e" stroke-width="1.7" stroke-linecap="butt"/>
<polygon points="260.5,427.2 284.1,427.2 284.1,450.9 260.5,450.9" fill="#cdcecf" stroke="none" stroke-linejoin="miter"/>
<polygon points="260.5,427.2 284.1,427.2 284.1,450.9 260.5,450.9" fill="none" stroke="#444" stroke-width="1.2" stroke-dasharray="5.5,3.4" stroke-linejoin="miter"/>
<line x1="241.6" y1="434.3" x2="253.3" y2="434.3" stroke="#1e1e1e" stroke-width="1.6" stroke-linecap="butt"/>
<polygon points="260.5,434.3 248.5,437.8 248.5,430.8" fill="#1e1e1e" stroke="none" stroke-linejoin="miter"/>
<line x1="302" y1="434.3" x2="291.3" y2="434.3" stroke="#1e1e1e" stroke-width="1.6" stroke-linecap="butt"/>
<polygon points="284.1,434.3 296.1,430.8 296.1,437.8" fill="#1e1e1e" stroke="none" stroke-linejoin="miter"/>
<text x="271.5" y="445.1" font-size="18.6" text-anchor="middle">33</text>
<polyline points="274.4,481 274.4,452.7 407.1,452.7 407.1,468" fill="none" stroke="#1e1e1e" stroke-width="1.7" stroke-linejoin="miter"/>
<polyline points="303,445.6 306,452.7" fill="none" stroke="#1e1e1e" stroke-width="1.0" stroke-linejoin="miter"/>
<polyline points="389.5,446 385.5,452.5" fill="none" stroke="#1e1e1e" stroke-width="1.0" stroke-linejoin="miter"/>
<line x1="241.6" y1="460.6" x2="253.3" y2="460.6" stroke="#1e1e1e" stroke-width="1.6" stroke-linecap="butt"/>
<polygon points="260.5,460.6 248.5,464.1 248.5,457.1" fill="#1e1e1e" stroke="none" stroke-linejoin="miter"/>
<line x1="293" y1="460.6" x2="281.6" y2="460.6" stroke="#1e1e1e" stroke-width="1.6" stroke-linecap="butt"/>
<polygon points="274.4,460.6 286.4,457.1 286.4,464.1" fill="#1e1e1e" stroke="none" stroke-linejoin="miter"/>
<text x="277.6" y="480.1" font-size="18.6" text-anchor="start">20</text>
<line x1="283.6" y1="487.6" x2="390.1" y2="487.6" stroke="#1e1e1e" stroke-width="1.7" stroke-linecap="butt"/>
</g>
<polyline points="695.1,589.2 695.1,557.3 873.3,557.3 873.3,589.2" fill="none" stroke="#1e1e1e" stroke-width="1.8" stroke-linejoin="miter"/>
<line x1="694.2" y1="589.2" x2="703" y2="589.2" stroke="#1e1e1e" stroke-width="1.4" stroke-linecap="butt"/>
<line x1="865" y1="589.2" x2="874.2" y2="589.2" stroke="#1e1e1e" stroke-width="1.4" stroke-linecap="butt"/>
<polyline points="702.8,592.8 695.1,592.8 695.1,733.9 703,733.9" fill="none" stroke="#1e1e1e" stroke-width="1.6" stroke-linejoin="miter"/>
<polyline points="865.2,592.8 873.3,592.8 873.3,734 865,734" fill="none" stroke="#1e1e1e" stroke-width="1.6" stroke-linejoin="miter"/>
<polyline points="703.1,736.3 703.1,562.9 865.2,562.9 865.2,736.3" fill="none" stroke="#1e1e1e" stroke-width="1.8" stroke-linejoin="miter"/>
<line x1="702.2" y1="736.3" x2="866.1" y2="736.3" stroke="#1e1e1e" stroke-width="2.2" stroke-linecap="butt"/>
<line x1="703.2" y1="580.4" x2="862.3" y2="580.4" stroke="#1e1e1e" stroke-width="1.1" stroke-linecap="butt"/>
<line x1="703.2" y1="594.1" x2="865.2" y2="594.1" stroke="#1e1e1e" stroke-width="1.6" stroke-linecap="butt"/>
<polyline points="812,581.4 812,592.3 854.3,592.3" fill="none" stroke="#1e1e1e" stroke-width="1.0" stroke-linejoin="miter"/>
<polygon points="854.5,585.8 860.6,585.8 860.6,591.5 854.5,591.5" fill="none" stroke="#1e1e1e" stroke-width="1.5" stroke-linejoin="miter"/>
<rect x="707.1" y="598.5" width="154.3" height="129.9" rx="10" fill="none" stroke="#1e1e1e" stroke-width="1.1"/>
<path d="M741.6,598.5 V677 Q741.6,683.9 748.5,683.9 H820.2 Q827.1,683.9 827.1,677 V598.5" fill="none" stroke="#1e1e1e" stroke-width="1.1"/>
<path d="M707.1,696.5 Q707.1,702.8 713.5,702.8 H756.8 Q763.5,702.8 763.5,709.5 V719 Q763.5,725.4 770,725.4 H798.2 Q804.6,725.4 804.6,719 V709.5 Q804.6,702.8 811.4,702.8 H855 Q861.4,702.8 861.4,696.5" fill="none" stroke="#1e1e1e" stroke-width="1.1"/>
<line x1="784.3" y1="541.4" x2="784.3" y2="742" stroke="#333" stroke-width="1.3" stroke-dasharray="5,3" stroke-linecap="butt"/>
<line x1="804" y1="545.7" x2="791.5" y2="545.7" stroke="#1e1e1e" stroke-width="1.6" stroke-linecap="butt"/>
<polygon points="784.3,545.7 796.3,542.2 796.3,549.2" fill="#1e1e1e" stroke="none" stroke-linejoin="miter"/>
<line x1="838" y1="545.7" x2="849.9" y2="545.7" stroke="#1e1e1e" stroke-width="1.6" stroke-linecap="butt"/>
<polygon points="857.1,545.7 845.1,549.2 845.1,542.2" fill="#1e1e1e" stroke="none" stroke-linejoin="miter"/>
<line x1="857.1" y1="545.7" x2="857.1" y2="588" stroke="#1e1e1e" stroke-width="1.0" stroke-linecap="butt"/>
<text x="804.9" y="553.2" font-size="18.6" text-anchor="start">245</text>
<path d="M885.1,563 A16.2,16.2 0 1 1 887.8,572.6 L860.2,585.8 Z" fill="#fff" stroke="#1e1e1e" stroke-width="1.5" stroke-linejoin="miter"/>
<circle cx="901.3" cy="563.2" r="9.2" fill="#fff" stroke="#1e1e1e" stroke-width="1.3"/>
<polygon points="901.78,557.13 902.66,557.24 901.38,562.42 903.56,561.06 901.88,567.02 902.59,566.94 901.3,569.44 900.44,566.79 901.22,566.91 902.08,563.51 898.96,564.18" fill="#1e1e1e" stroke="none" stroke-linejoin="miter"/>
<line x1="860.6" y1="588.8" x2="907" y2="588.8" stroke="#1e1e1e" stroke-width="1.0" stroke-linecap="butt"/>
<line x1="865" y1="736.2" x2="907" y2="736.2" stroke="#1e1e1e" stroke-width="1.0" stroke-linecap="butt"/>
<line x1="907.1" y1="597" x2="907.1" y2="642" stroke="#1e1e1e" stroke-width="1.6" stroke-linecap="butt"/>
<polygon points="907.1,589.4 910.6,601.4 903.6,601.4" fill="#1e1e1e" stroke="none" stroke-linejoin="miter"/>
<line x1="907.1" y1="660" x2="907.1" y2="728" stroke="#1e1e1e" stroke-width="1.6" stroke-linecap="butt"/>
<polygon points="907.1,735.7 903.6,723.7 910.6,723.7" fill="#1e1e1e" stroke="none" stroke-linejoin="miter"/>
<text x="890.6" y="657.4" font-size="18.6" text-anchor="start">490</text>
<line x1="343.5" y1="631.6" x2="343.5" y2="675.7" stroke="#1e1e1e" stroke-width="1.0" stroke-linecap="butt"/>
<line x1="510.8" y1="631.6" x2="510.8" y2="668" stroke="#1e1e1e" stroke-width="1.0" stroke-linecap="butt"/>
<line x1="384.5" y1="631.6" x2="351.3" y2="631.6" stroke="#1e1e1e" stroke-width="1.6" stroke-linecap="butt"/>
<polygon points="343.5,631.6 356.5,628.4 356.5,634.8" fill="#1e1e1e" stroke="none" stroke-linejoin="miter"/>
<line x1="478.8" y1="631.6" x2="503" y2="631.6" stroke="#1e1e1e" stroke-width="1.6" stroke-linecap="butt"/>
<polygon points="510.8,631.6 497.8,634.8 497.8,628.4" fill="#1e1e1e" stroke="none" stroke-linejoin="miter"/>
<text x="393.2" y="638.8" font-size="18.6" text-anchor="start">min. 1500</text>
<path d="M344.6,676.8 C358,669.5 370,666.4 385,666.4 C410,666.6 440,681 463,680.8 C474,680.6 480,676 485.4,671.2" fill="none" stroke="#1e1e1e" stroke-width="2.4"/>
<path d="M348.6,682.9 C361,676.3 372,673.3 385,673.3 C410,673.5 440,687.2 463,687.2 C476,687 483,681 489.4,676" fill="none" stroke="#1e1e1e" stroke-width="2.4"/>
<line x1="384" y1="669.5" x2="368.9" y2="692.2" stroke="#1e1e1e" stroke-width="1.4" stroke-linecap="butt"/>
<line x1="486.6" y1="671.4" x2="486.6" y2="652.4" stroke="#1e1e1e" stroke-width="1.2" stroke-linecap="butt"/>
<line x1="486.6" y1="671.4" x2="497" y2="654" stroke="#1e1e1e" stroke-width="1.2" stroke-linecap="butt"/>
<line x1="486.6" y1="671.4" x2="505.6" y2="659.3" stroke="#1e1e1e" stroke-width="1.2" stroke-linecap="butt"/>
<line x1="487.5" y1="672" x2="510.8" y2="668" stroke="#1e1e1e" stroke-width="1.2" stroke-linecap="butt"/>
<text x="343.9" y="713.3" font-size="18.6" text-anchor="start">H05 V V - F</text>
<text x="754.7" y="15.5" font-size="18.6" text-anchor="start">PSGBOV180DE0000G</text>
</svg></body></html>
